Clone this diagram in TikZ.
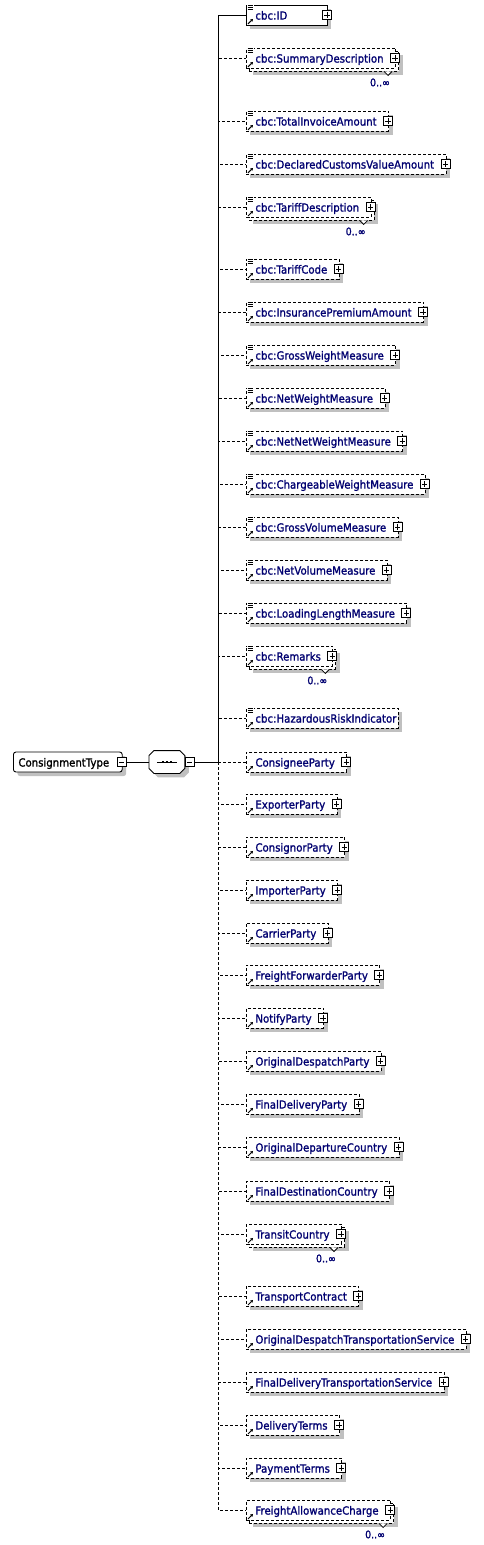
\documentclass[tikz,border=0pt]{standalone}
\usepackage{fontspec}
\setmainfont{DejaVu Sans}[FakeStretch=0.9, FakeBold=1.2]
\usepackage{tikz}
\usetikzlibrary{arrows.meta,positioning,shadows}

\definecolor{elemblue}{RGB}{0,0,112}
\definecolor{shadowgray}{RGB}{192,192,192}

\begin{document}
\begin{tikzpicture}[
    x = 1pt, y = -1pt, % one unit is one pixel, y runs downwards
    line width = 0.9pt, % line style
    font = \fontsize{11.3}{13}\selectfont
    ]

    \tikzset{
    elem/.style = {draw, fill=white, anchor=west, inner sep=0pt,
        minimum height=20pt, text height=9.6pt, text depth=0.4pt,
        text=elemblue,
        execute at begin node=\hspace*{9pt}},
    opt/.style = {dash pattern=on 3pt off 2pt},
    mult0/.style = {general shadow={fill=shadowgray,
        shadow xshift=4pt, shadow yshift=-4pt}},
    mult1/.style = {general shadow={fill=shadowgray,
        shadow xshift=7pt, shadow yshift=-7pt},
        general shadow={fill=white, draw, dash pattern=on 3pt off 2pt,
        shadow xshift=3pt, shadow yshift=-3pt}},
    ex0/.style = {execute at end node=\hspace*{2pt}},
    ex1/.style = {execute at end node=\hspace*{12pt}},
    expand/.style = {draw, fill=white, solid, minimum size=9pt, inner sep=0pt,
        line width=0.8pt,
        path picture={\draw[line width=0.8pt]
            ([xshift=-2.6pt]path picture bounding box.center)
            -- ([xshift=2.6pt]path picture bounding box.center)
            ([yshift=-2.6pt]path picture bounding box.center)
            -- ([yshift=2.6pt]path picture bounding box.center);}},
    collapse/.style = {draw, fill=white, solid, minimum size=9pt, inner sep=0pt,
        line width=0.8pt,
        path picture={\draw[line width=0.8pt]
            ([xshift=-2.6pt]path picture bounding box.center)
            -- ([xshift=2.6pt]path picture bounding box.center);}},
    ctype/.style = {draw, fill=white, anchor=west, inner sep=0pt,
        rounded corners=2.5pt, minimum height=20pt,
        text height=9.6pt, text depth=0.4pt,
        execute at begin node=\hspace*{5pt},
        execute at end node=\hspace*{13pt}, mult0},
    seqshape/.style = {anchor=west, inner sep=0pt,
        minimum width=35pt, minimum height=22pt},
    multlabel/.style = {text=elemblue, inner sep=0pt,
        font=\fontsize{10.5}{11}\selectfont}
    }

    \useasboundingbox (0,0) rectangle (483,1545);

    % the type and its sequence
    \node[ctype] (ct) at (13,762) {ConsignmentType};
    \node[collapse] (ctx) at ([xshift=-1pt]ct.east) {};
    \node[seqshape] (seq) at (149,762) {};
    \path[draw, fill=white, mult0]
        ([xshift=5pt]seq.north west) -- ([xshift=-5pt]seq.north east)
        -- ([yshift=-5pt]seq.north east) -- ([yshift=5pt]seq.south east)
        -- ([xshift=-5pt]seq.south east) -- ([xshift=5pt]seq.south west)
        -- ([yshift=5pt]seq.south west) -- ([yshift=-5pt]seq.north west) -- cycle;
    \draw[line width=0.7pt] ([xshift=-10pt]seq.center) -- ([xshift=10pt]seq.center);
    \foreach \d in {-4.2,0,4.2}
        \fill ([xshift=\d pt]seq.center) +(-1.2,-1.2) rectangle +(1.2,1.2);
    \node[collapse] (seqx) at ([xshift=4.5pt]seq.east) {};
    \coordinate (hub) at (218,762);
    \draw (ctx.east) -- (seq.west);
    \draw (seqx.east) -- (hub);

    % the one required child
    \node[elem, mult0, text width=81pt] (e1) at (246,15) {cbc:ID};
    \fill[white] ([shift={(0.5,-0.5)}]e1.north west) rectangle ([shift={(8,6)}]e1.north west);
    \foreach \k in {1,3,5}
    \draw[line width=0.8pt] ([shift={(1.5,\k)}]e1.north west) -- ++(5.5,0);
    \draw[-{Triangle[length=2.5pt,width=3pt]}, line width=1pt]
        ([shift={(2,-1.5)}]e1.south west) -- ([shift={(7,-6.5)}]e1.south west);
    \node[expand] (x1) at ([xshift=-1pt]e1.east) {};
    \draw (hub) |- (e1.west);

    % optional children: number/y/name/multiple/simple content/expandable
    \foreach \i/\y/\txt/\m/\ic/\ex in {
        2/58/cbc:SummaryDescription/1/1/1,
        3/121/cbc:TotalInvoiceAmount/0/1/1,
        4/164/cbc:DeclaredCustomsValueAmount/0/1/1,
        5/207/cbc:TariffDescription/1/1/1,
        6/269/cbc:TariffCode/0/1/1,
        7/312/cbc:InsurancePremiumAmount/0/1/1,
        8/355/cbc:GrossWeightMeasure/0/1/1,
        9/398/cbc:NetWeightMeasure/0/1/1,
        10/441/cbc:NetNetWeightMeasure/0/1/1,
        11/484/cbc:ChargeableWeightMeasure/0/1/1,
        12/527/cbc:GrossVolumeMeasure/0/1/1,
        13/570/cbc:NetVolumeMeasure/0/1/1,
        14/613/cbc:LoadingLengthMeasure/0/1/1,
        15/656/cbc:Remarks/1/1/1,
        16/718/cbc:HazardousRiskIndicator/0/1/0,
        17/762/ConsigneeParty/0/0/1,
        18/804/ExporterParty/0/0/1,
        19/847/ConsignorParty/0/0/1,
        20/890/ImporterParty/0/0/1,
        21/933/CarrierParty/0/0/1,
        22/975/FreightForwarderParty/0/0/1,
        23/1018/NotifyParty/0/0/1,
        24/1061/OriginalDespatchParty/0/0/1,
        25/1104/FinalDeliveryParty/0/0/1,
        26/1147/OriginalDepartureCountry/0/0/1,
        27/1191/FinalDestinationCountry/0/0/1,
        28/1234/TransitCountry/1/0/1,
        29/1296/TransportContract/0/0/1,
        30/1339/OriginalDespatchTransportationService/0/0/1,
        31/1382/FinalDeliveryTransportationService/0/0/1,
        32/1425/DeliveryTerms/0/0/1,
        33/1468/PaymentTerms/0/0/1,
        34/1510/FreightAllowanceCharge/1/0/1}{
        \node[elem, opt, mult\m, ex\ex] (e\i) at (246,\y) {\txt};
        \ifnum\ic=1
            \fill[white] ([shift={(0.5,-0.5)}]e\i.north west) rectangle ([shift={(8,6)}]e\i.north west);
            \foreach \k in {1,3,5}
            \draw[line width=0.8pt] ([shift={(1.5,\k)}]e\i.north west) -- ++(5.5,0);
        \fi
        \draw[-{Triangle[length=2.5pt,width=3pt]}, line width=1pt]
            ([shift={(2,-1.5)}]e\i.south west) -- ([shift={(7,-6.5)}]e\i.south west);
        \ifnum\ex=1
            \node[expand] (x\i) at ([xshift=-1pt]e\i.east) {};
        \fi
        \ifnum\m=1
            \draw[fill=white, line width=0.8pt] ([shift={(-12,3)}]e\i.south east)
                -- ([shift={(-8,7)}]e\i.south east) -- ([shift={(-4,3)}]e\i.south east);
            \node[multlabel] (m\i) at ([shift={(-16,14)}]e\i.south east) {0..∞};
        \fi
        \draw[opt] (hub) |- (e\i.west);
    }
\end{tikzpicture}
\end{document}
